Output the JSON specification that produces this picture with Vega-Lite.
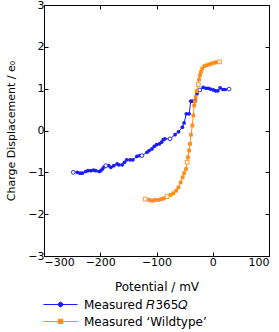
{
  "$schema": "https://vega.github.io/schema/vega-lite/v6.json",
  "width": 225,
  "height": 251,
  "autosize": {"type": "none"},
  "padding": {"left": 44, "top": 5, "right": 10, "bottom": 76},
  "config": {
    "font": "DejaVu Sans",
    "view": {"stroke": "black", "strokeWidth": 1},
    "axis": {"grid": false, "domain": false, "tickColor": "black", "labelColor": "black", "titleColor": "black", "labelFontSize": 11, "titleFontSize": 11, "titleFontWeight": "normal", "tickSize": -4, "labelPadding": 4}
  },
  "data": {"values": [
    {"s":"R365Q","x":-248,"y":-1.00,"o":true},
    {"s":"R365Q","x":-241,"y":-1.00,"o":false},
    {"s":"R365Q","x":-236,"y":-1.02,"o":false},
    {"s":"R365Q","x":-232,"y":-1.02,"o":false},
    {"s":"R365Q","x":-226,"y":-0.98,"o":false},
    {"s":"R365Q","x":-222,"y":-0.96,"o":false},
    {"s":"R365Q","x":-217,"y":-0.96,"o":false},
    {"s":"R365Q","x":-212,"y":-0.95,"o":false},
    {"s":"R365Q","x":-208,"y":-0.96,"o":false},
    {"s":"R365Q","x":-202,"y":-0.98,"o":false},
    {"s":"R365Q","x":-199,"y":-0.96,"o":false},
    {"s":"R365Q","x":-196,"y":-0.92,"o":false},
    {"s":"R365Q","x":-193,"y":-0.87,"o":false},
    {"s":"R365Q","x":-190,"y":-0.84,"o":true},
    {"s":"R365Q","x":-185,"y":-0.84,"o":false},
    {"s":"R365Q","x":-181,"y":-0.88,"o":false},
    {"s":"R365Q","x":-176,"y":-0.84,"o":false},
    {"s":"R365Q","x":-170,"y":-0.80,"o":false},
    {"s":"R365Q","x":-167,"y":-0.82,"o":false},
    {"s":"R365Q","x":-161,"y":-0.82,"o":false},
    {"s":"R365Q","x":-157,"y":-0.76,"o":false},
    {"s":"R365Q","x":-153,"y":-0.70,"o":false},
    {"s":"R365Q","x":-147,"y":-0.70,"o":false},
    {"s":"R365Q","x":-142,"y":-0.70,"o":false},
    {"s":"R365Q","x":-135,"y":-0.62,"o":false},
    {"s":"R365Q","x":-130,"y":-0.60,"o":false},
    {"s":"R365Q","x":-126,"y":-0.60,"o":true},
    {"s":"R365Q","x":-117,"y":-0.52,"o":false},
    {"s":"R365Q","x":-113,"y":-0.48,"o":false},
    {"s":"R365Q","x":-108,"y":-0.44,"o":false},
    {"s":"R365Q","x":-104,"y":-0.38,"o":false},
    {"s":"R365Q","x":-100,"y":-0.34,"o":false},
    {"s":"R365Q","x":-95,"y":-0.32,"o":false},
    {"s":"R365Q","x":-91,"y":-0.28,"o":false},
    {"s":"R365Q","x":-88,"y":-0.22,"o":false},
    {"s":"R365Q","x":-85,"y":-0.20,"o":false},
    {"s":"R365Q","x":-76,"y":-0.20,"o":true},
    {"s":"R365Q","x":-67,"y":-0.10,"o":false},
    {"s":"R365Q","x":-61,"y":-0.03,"o":false},
    {"s":"R365Q","x":-54,"y":0.08,"o":false},
    {"s":"R365Q","x":-51,"y":0.18,"o":false},
    {"s":"R365Q","x":-47,"y":0.40,"o":false},
    {"s":"R365Q","x":-42,"y":0.40,"o":false},
    {"s":"R365Q","x":-39,"y":0.70,"o":false},
    {"s":"R365Q","x":-35,"y":0.70,"o":false},
    {"s":"R365Q","x":-31,"y":0.72,"o":false},
    {"s":"R365Q","x":-28,"y":0.88,"o":false},
    {"s":"R365Q","x":-23,"y":0.97,"o":true},
    {"s":"R365Q","x":-17,"y":1.03,"o":false},
    {"s":"R365Q","x":-12,"y":1.01,"o":false},
    {"s":"R365Q","x":-8,"y":1.01,"o":false},
    {"s":"R365Q","x":-4,"y":0.99,"o":false},
    {"s":"R365Q","x":1,"y":0.97,"o":false},
    {"s":"R365Q","x":5,"y":0.95,"o":false},
    {"s":"R365Q","x":9,"y":0.95,"o":false},
    {"s":"R365Q","x":13,"y":1.02,"o":false},
    {"s":"R365Q","x":18,"y":0.98,"o":false},
    {"s":"R365Q","x":22,"y":0.98,"o":false},
    {"s":"R365Q","x":29,"y":0.99,"o":true},
    {"s":"Wildtype","x":-120,"y":-1.64,"o":true},
    {"s":"Wildtype","x":-113,"y":-1.66,"o":false},
    {"s":"Wildtype","x":-107,"y":-1.68,"o":false},
    {"s":"Wildtype","x":-103,"y":-1.66,"o":false},
    {"s":"Wildtype","x":-97,"y":-1.66,"o":false},
    {"s":"Wildtype","x":-91,"y":-1.64,"o":false},
    {"s":"Wildtype","x":-87,"y":-1.62,"o":false},
    {"s":"Wildtype","x":-81,"y":-1.58,"o":true},
    {"s":"Wildtype","x":-75,"y":-1.54,"o":false},
    {"s":"Wildtype","x":-70,"y":-1.50,"o":false},
    {"s":"Wildtype","x":-65,"y":-1.44,"o":false},
    {"s":"Wildtype","x":-61,"y":-1.36,"o":false},
    {"s":"Wildtype","x":-57,"y":-1.24,"o":false},
    {"s":"Wildtype","x":-53.5,"y":-1.12,"o":false},
    {"s":"Wildtype","x":-51,"y":-1.02,"o":false},
    {"s":"Wildtype","x":-47.6,"y":-0.92,"o":false},
    {"s":"Wildtype","x":-45.5,"y":-0.76,"o":true},
    {"s":"Wildtype","x":-44,"y":-0.64,"o":false},
    {"s":"Wildtype","x":-42,"y":-0.48,"o":false},
    {"s":"Wildtype","x":-40.4,"y":-0.32,"o":false},
    {"s":"Wildtype","x":-38.7,"y":-0.10,"o":false},
    {"s":"Wildtype","x":-36.3,"y":0.12,"o":false},
    {"s":"Wildtype","x":-34.5,"y":0.36,"o":false},
    {"s":"Wildtype","x":-33,"y":0.60,"o":false},
    {"s":"Wildtype","x":-31.8,"y":0.70,"o":false},
    {"s":"Wildtype","x":-30.4,"y":0.80,"o":false},
    {"s":"Wildtype","x":-28.6,"y":0.94,"o":false},
    {"s":"Wildtype","x":-25.7,"y":1.10,"o":true},
    {"s":"Wildtype","x":-24.4,"y":1.22,"o":false},
    {"s":"Wildtype","x":-22.7,"y":1.32,"o":false},
    {"s":"Wildtype","x":-20.9,"y":1.40,"o":false},
    {"s":"Wildtype","x":-18.6,"y":1.48,"o":false},
    {"s":"Wildtype","x":-15,"y":1.54,"o":false},
    {"s":"Wildtype","x":-10.8,"y":1.56,"o":false},
    {"s":"Wildtype","x":-6.7,"y":1.58,"o":false},
    {"s":"Wildtype","x":-2,"y":1.60,"o":false},
    {"s":"Wildtype","x":2.8,"y":1.62,"o":false},
    {"s":"Wildtype","x":6.3,"y":1.63,"o":false},
    {"s":"Wildtype","x":12,"y":1.64,"o":true}
  ]},
  "resolve": {"axis": {"x": "independent", "y": "independent"}},
  "layer": [
    {
      "mark": {"type": "line", "strokeWidth": 1},
      "encoding": {
        "x": {"field": "x", "type": "quantitative", "scale": {"domain": [-300, 100], "nice": false}, "axis": {"values": [-300, -200, -100, 0, 100], "title": "Potential / mV", "titleFontSize": 12, "titlePadding": 14}},
        "y": {"field": "y", "type": "quantitative", "scale": {"domain": [-3, 3], "nice": false}, "axis": {"values": [-3, -2, -1, 0, 1, 2, 3], "title": "Charge Displacement / e₀", "titlePadding": 11}},
        "color": {"field": "s", "type": "nominal", "scale": {"domain": ["R365Q", "Wildtype"], "range": ["#1a1aff", "#ff8c1a"]},
          "legend": {"orient": "none", "legendX": 6.5, "legendY": 289.5, "title": null, "padding": 0, "rowPadding": 1, "symbolSize": 361, "labelOffset": 13.5, "labelFontSize": 12, "labelColor": "black", "labelLimit": 300,
            "labelExpr": "datum.value === 'R365Q' ? 'Measured 𝑅365𝑄' : 'Measured ‘Wildtype’'",
            "encode": {"symbols": {"update": {
              "shape": {"signal": "datum.value === 'R365Q' ? 'M-1.79,0H1.79M0.24,0A0.24,0.24 0 1 1 -0.24,0A0.24,0.24 0 1 1 0.24,0Z' : 'M-1.79,0H1.79M-0.24,-0.24H0.24V0.24H-0.24Z'"},
              "fill": {"signal": "datum.value === 'R365Q' ? '#1a1aff' : '#ff8c1a'"},
              "stroke": {"signal": "datum.value === 'R365Q' ? '#1a1aff' : '#ff8c1a'"},
              "strokeWidth": {"value": 1},
              "opacity": {"value": 1}
            }}}
          }}
      }
    },
    {
      "transform": [{"filter": "!datum.o && datum.s === 'R365Q'"}],
      "mark": {"type": "point", "filled": true, "size": 14, "opacity": 1, "shape": "circle", "color": "#1a1aff"},
      "encoding": {
        "x": {"field": "x", "type": "quantitative", "axis": {"orient": "top", "values": [-300, -200, -100, 0, 100], "labels": false, "title": null}},
        "y": {"field": "y", "type": "quantitative", "axis": {"orient": "right", "values": [-3, -2, -1, 0, 1, 2, 3], "labels": false, "title": null}}
      }
    },
    {
      "transform": [{"filter": "datum.o && datum.s === 'R365Q'"}],
      "mark": {"type": "point", "filled": true, "fill": "white", "stroke": "#1a1aff", "size": 14, "strokeWidth": 0.9, "opacity": 1, "shape": "circle"},
      "encoding": {
        "x": {"field": "x", "type": "quantitative", "axis": null},
        "y": {"field": "y", "type": "quantitative", "axis": null}
      }
    },
    {
      "transform": [{"filter": "!datum.o && datum.s === 'Wildtype'"}],
      "mark": {"type": "point", "filled": true, "size": 14, "opacity": 1, "shape": "square", "color": "#ff8c1a"},
      "encoding": {
        "x": {"field": "x", "type": "quantitative", "axis": null},
        "y": {"field": "y", "type": "quantitative", "axis": null}
      }
    },
    {
      "transform": [{"filter": "datum.o && datum.s === 'Wildtype'"}],
      "mark": {"type": "point", "filled": true, "fill": "white", "stroke": "#ff8c1a", "size": 14, "strokeWidth": 0.9, "opacity": 1, "shape": "square"},
      "encoding": {
        "x": {"field": "x", "type": "quantitative", "axis": null},
        "y": {"field": "y", "type": "quantitative", "axis": null}
      }
    }
  ]
}
